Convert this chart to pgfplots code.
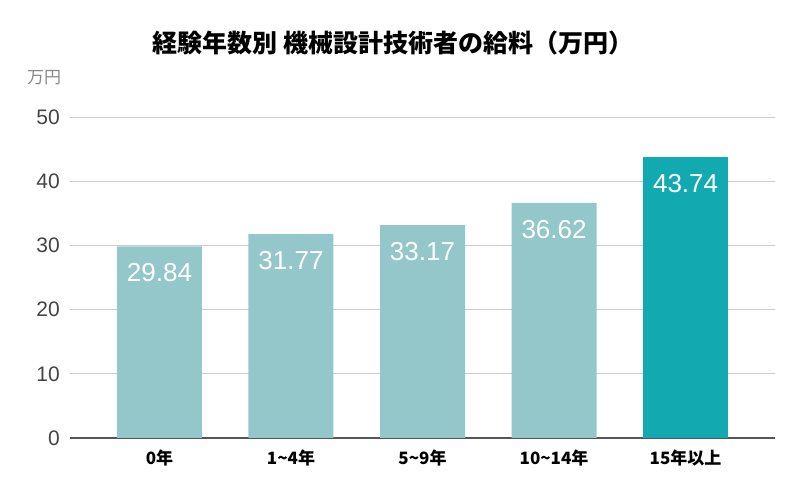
\documentclass[border=0pt]{standalone}
\usepackage{fontspec}
\usepackage{pgfplots}
\pgfplotsset{compat=1.18}
\setmainfont{Noto Sans CJK JP}
\newfontfamily\num{Liberation Sans}
\definecolor{barlight}{HTML}{93C7CA}
\definecolor{bardark}{HTML}{13A9B0}
\definecolor{gridgray}{HTML}{CCCCCC}
\definecolor{axisgray}{HTML}{555555}
\definecolor{ticktext}{HTML}{444444}
\definecolor{unitgray}{HTML}{888888}

\begin{document}
\begin{tikzpicture}
\useasboundingbox (0,0) rectangle (799pt,494pt);
\begin{axis}[
  at={(70pt,56pt)}, anchor=south west,
  scale only axis, width=705pt, height=321pt,
  xmin=-0.68, xmax=4.68, ymin=0, ymax=50,
  ytick={0,10,...,50},
  xtick={0,...,4},
  xticklabels={0年,1\textasciitilde 4年,5\textasciitilde 9年,10\textasciitilde 14年,15年以上},
  axis lines*=left,
  y axis line style={draw=none},
  x axis line style={axisgray, line width=1.2pt},
  ymajorgrids, major grid style={gridgray, line width=0.9pt},
  major tick length=0pt,
  tick style={draw=none},
  ybar, bar width=85pt,
  /pgf/number format/assume math mode=true,
  nodes near coords={\num\fontsize{26}{26}\selectfont\pgfmathprintnumber[fixed,fixed zerofill,precision=2]{\pgfplotspointmeta}},
  nodes near coords style={anchor=north, inner sep=0pt, yshift=-17pt, text=white},
  yticklabel style={font=\num\fontsize{21}{21}\selectfont, text=ticktext, inner sep=0pt, xshift=-10pt, anchor=east},
  xticklabel style={font=\bfseries\fontsize{17}{17}\selectfont, inner sep=0pt, anchor=north, yshift=-12pt},
]
\addplot[fill=barlight, draw=none, bar shift=0pt] coordinates {(0,29.84) (1,31.77) (2,33.17) (3,36.62)};
\addplot[fill=bardark, draw=none, bar shift=0pt] coordinates {(4,43.74)};
\end{axis}
\node[font=\bfseries\fontsize{25}{25}\selectfont, text=black] at (393pt,451pt) {経験年数別 機械設計技術者の給料（万円）};
\node[font=\fontsize{17}{17}\selectfont, text=unitgray] at (44pt,416pt) {万円};
\end{tikzpicture}
\end{document}
